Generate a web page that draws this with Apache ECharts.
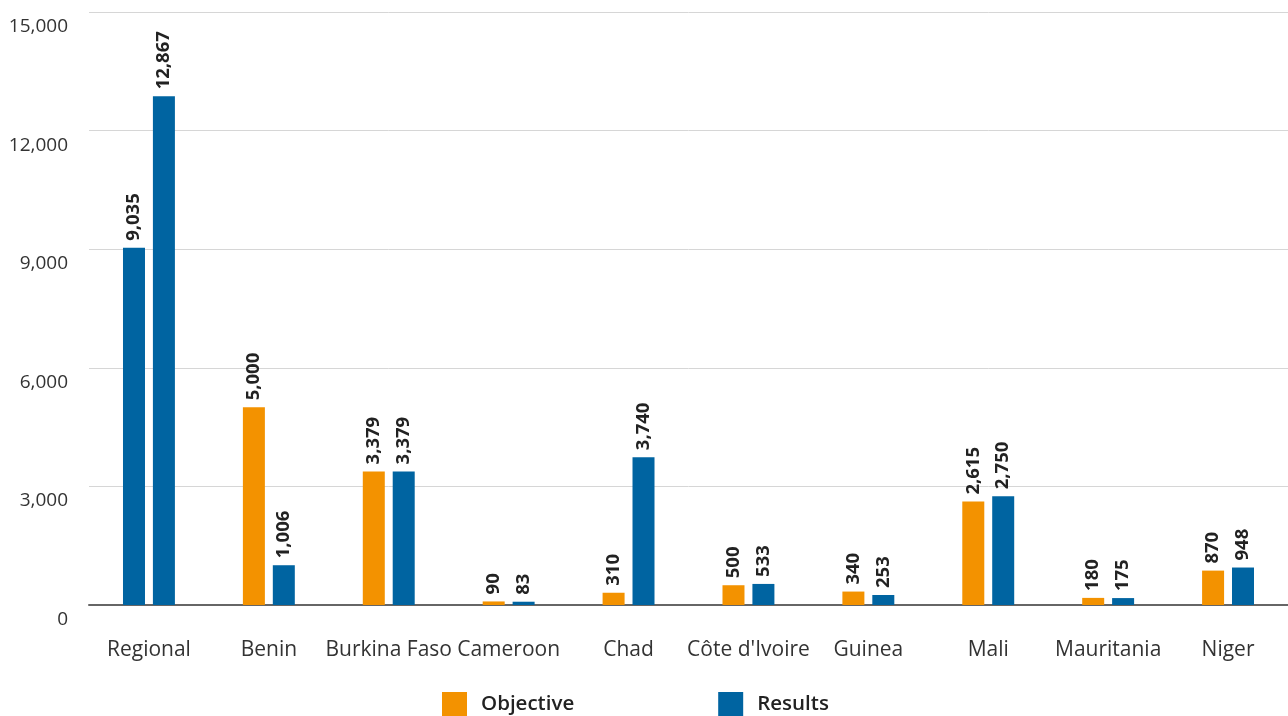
<!DOCTYPE html>
<html>
<head>
<meta charset="utf-8">
<script src="https://cdn.jsdelivr.net/npm/echarts@6/dist/echarts.min.js"></script>
<style>
  html, body { margin: 0; padding: 0; background: #fff; }
  #main { width: 1288px; height: 716px; }
</style>
</head>
<body>
<div id="main"></div>
<script>
// data
var categories = ['Regional', 'Benin', 'Burkina Faso', 'Cameroon', 'Chad', "Côte d'Ivoire", 'Guinea', 'Mali', 'Mauritania', 'Niger']
var objective = [9035, 5000, 3379, 90, 310, 500, 340, 2615, 180, 870]
var results = [12867, 1006, 3379, 83, 3740, 533, 253, 2750, 175, 948]

var ORANGE = '#f39200'
var BLUE = '#0064a1'
var FONT = 'Open Sans'

var myChart = echarts.init(document.getElementById('main'))

var valueLabel = {
  show: true,
  position: 'top',
  rotate: 90,
  align: 'left',
  verticalAlign: 'middle',
  distance: 7,
  color: '#222',
  fontFamily: FONT,
  fontWeight: 'bold',
  fontSize: 18.5,
  formatter: function (p) { return p.value.toLocaleString('en-US') }
}

// the Regional objective bar is drawn in blue in the original
var objectiveData = objective.map(function (v, i) {
  return i === 0 ? { value: v, itemStyle: { color: BLUE } } : v
})

var option = {
  animation: false,
  textStyle: { fontFamily: FONT },
  grid: { left: 89, right: 0, top: 12, bottom: 111 },
  legend: {
    bottom: -1,
    left: 442,
    padding: 0,
    itemWidth: 25,
    itemHeight: 25,
    itemGap: 144,
    icon: 'rect',
    textStyle: { fontFamily: FONT, fontSize: 20.5, fontWeight: 600, color: '#222', padding: [2, 0, 0, 9] },
    data: ['Objective', 'Results']
  },
  xAxis: {
    type: 'category',
    data: categories,
    axisLine: { lineStyle: { color: '#666', width: 2 } },
    axisTick: { show: false },
    axisLabel: { color: '#333', fontSize: 21, margin: 35, interval: 0 }
  },
  yAxis: {
    type: 'value',
    min: 0,
    max: 15000,
    interval: 3000,
    axisLine: { show: false },
    axisTick: { show: false },
    splitLine: { lineStyle: { color: '#d6d6d6', width: 1 } },
    axisLabel: {
      color: '#333',
      fontSize: 19,
      margin: 21,
      verticalAlign: 'top',
      padding: [5, 0, 0, 0],
      formatter: function (v) { return v.toLocaleString('en-US') }
    }
  },
  series: [
    {
      name: 'Objective',
      type: 'bar',
      barWidth: 22,
      barGap: '36%',
      itemStyle: { color: ORANGE },
      label: valueLabel,
      data: objectiveData
    },
    {
      name: 'Results',
      type: 'bar',
      barWidth: 22,
      itemStyle: { color: BLUE },
      label: valueLabel,
      data: results
    }
  ]
}

myChart.setOption(option)
</script>
</body>
</html>
